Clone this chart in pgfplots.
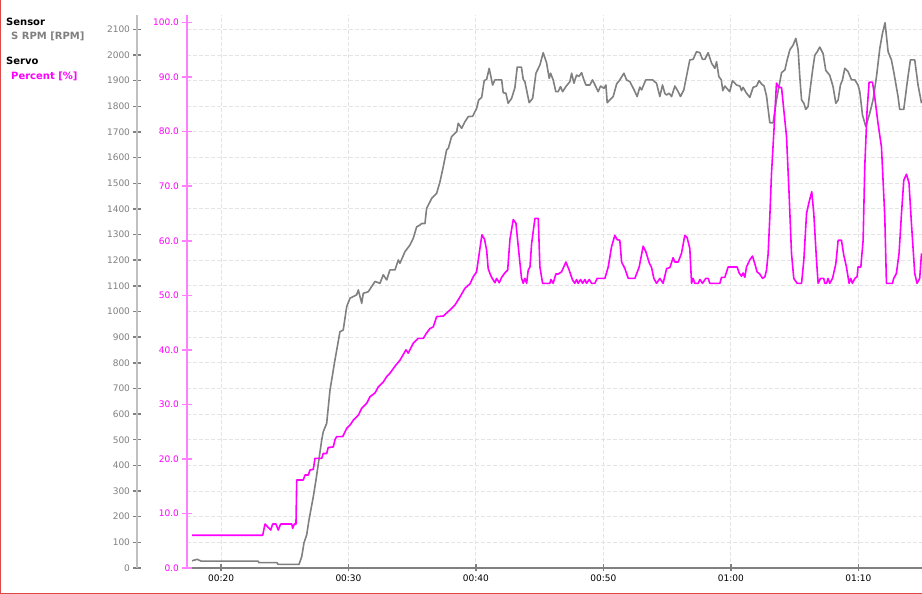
\documentclass[border=0pt]{standalone}
\usepackage{pgfplots}
\pgfplotsset{compat=1.18}
\usepackage{fontspec}
\setmainfont{DejaVu Sans}
\definecolor{rpmgray}{HTML}{808080}
\definecolor{rpmaxis}{HTML}{C0C0C0}
\definecolor{mag}{HTML}{FF00FF}
\definecolor{magaxis}{HTML}{FF80FF}
\definecolor{gridc}{HTML}{E4E4E4}
\definecolor{framec}{HTML}{E04848}
\begin{document}
\begin{tikzpicture}
\useasboundingbox (0pt,0pt) rectangle (922pt,594pt);
\fill[white] (0pt,0pt) rectangle (922pt,594pt);
% RPM axis
\begin{axis}[
  at={(187pt,26pt)}, anchor=south west,
  scale only axis, width=735pt, height=553pt,
  xmin=17.33, xmax=75.0, ymin=0, ymax=2156,
  axis x line*=bottom, axis y line*=left,
  axis y line shift=50pt,
  x axis line style={draw=rpmgray, line width=2pt, -},
  y axis line style={draw=rpmaxis, line width=2pt, -},
  xtick={20,30,40,50,60,70},
  xticklabels={00:20,00:30,00:40,00:50,01:00,01:10},
  ytick={0,100,...,2100},
  tick align=center,
  major tick length=7pt,
  xtick style={draw=rpmgray, line width=1.5pt},
  ytick style={draw=rpmgray, line width=1.5pt},
  /pgf/number format/assume math mode=true,
  /pgf/number format/1000 sep={},
  tick label style={font=\fontsize{9}{10}\selectfont},
  yticklabel style={text=rpmgray},
  xticklabel style={text=black},
  grid=major,
  major grid style={draw=gridc, line width=1pt, dash pattern=on 4pt off 2pt},
  clip=true,
]
\addplot[rpmgray, line width=1.6pt, line join=round] coordinates {
(17.73,28)(18.12,34)(18.43,27)(22.90,27)(22.98,21)(24.39,21)(24.47,14)(26.12,14)(26.33,44)(26.51,98)(26.72,129)(26.90,187)(27.24,278)(27.45,343)(27.90,499)(28.02,531)(28.29,564)(28.55,694)(28.94,811)(29.33,921)(29.59,928)(29.86,1019)(30.12,1052)(30.64,1065)(30.77,1084)(31.04,1032)(31.16,1071)(31.55,1077)(32.08,1117)(32.47,1110)(32.73,1143)(33.00,1123)(33.25,1162)(33.65,1162)(33.91,1201)(34.04,1188)(34.43,1233)(34.82,1259)(35.08,1285)(35.35,1330)(35.61,1337)(35.74,1343)(36.00,1343)(36.13,1402)(36.53,1441)(36.92,1461)(37.18,1506)(37.44,1565)(37.70,1630)(37.84,1637)(38.09,1682)(38.49,1701)(38.61,1734)(38.88,1714)(39.14,1740)(39.40,1760)(39.74,1761)(40.05,1791)(40.21,1824)(40.45,1835)(40.65,1900)(40.84,1905)(41.04,1948)(41.31,1883)(41.49,1903)(42.02,1903)(42.14,1853)(42.35,1851)(42.53,1812)(42.80,1831)(43.06,1873)(43.24,1953)(43.57,1953)(43.71,1905)(43.84,1896)(44.18,1814)(44.45,1831)(44.71,1929)(45.02,1961)(45.28,2009)(45.55,1968)(45.75,1909)(45.86,1929)(46.06,1903)(46.27,1857)(46.45,1857)(46.64,1877)(46.80,1857)(47.06,1877)(47.37,1896)(47.51,1929)(47.69,1890)(47.90,1922)(48.08,1916)(48.29,1931)(48.47,1903)(48.63,1883)(48.94,1883)(49.15,1903)(49.47,1870)(49.59,1857)(49.78,1879)(50.04,1870)(50.20,1883)(50.30,1814)(50.51,1825)(50.77,1838)(51.04,1887)(51.29,1903)(51.61,1929)(51.82,1903)(52.08,1896)(52.39,1866)(52.65,1838)(52.86,1875)(53.00,1864)(53.33,1903)(53.86,1903)(54.17,1890)(54.43,1838)(54.64,1883)(54.82,1851)(54.96,1844)(55.16,1851)(55.35,1838)(55.61,1879)(55.87,1857)(56.05,1838)(56.31,1864)(56.78,1981)(57.04,1983)(57.31,2013)(57.57,2009)(57.78,1983)(57.96,1983)(58.22,2009)(58.49,1968)(58.75,1948)(58.88,1974)(59.06,1916)(59.25,1903)(59.37,1861)(59.53,1879)(59.91,1857)(60.13,1900)(60.45,1883)(60.71,1879)(60.84,1861)(60.96,1874)(61.23,1851)(61.49,1835)(61.75,1874)(62.02,1879)(62.22,1900)(62.41,1887)(62.61,1879)(62.80,1840)(63.06,1736)(63.32,1736)(63.58,1825)(63.98,1931)(64.24,1942)(64.42,1981)(64.63,2020)(64.89,2039)(65.10,2065)(65.28,2020)(65.41,1916)(65.55,1825)(65.73,1812)(65.88,1788)(66.06,1799)(66.25,1877)(66.45,1953)(66.59,1999)(66.77,2012)(66.98,2031)(67.24,2005)(67.45,1940)(67.76,1921)(68.02,1877)(68.24,1812)(68.42,1825)(68.60,1883)(68.76,1903)(68.94,1948)(69.20,1935)(69.47,1903)(69.73,1903)(69.98,1883)(70.12,1857)(70.33,1766)(70.59,1721)(70.90,1773)(71.16,1825)(71.43,1916)(71.69,2026)(71.90,2085)(72.10,2126)(72.34,2013)(72.60,1981)(72.78,1935)(73.12,1838)(73.25,1788)(73.57,1788)(73.83,1890)(74.09,1981)(74.43,1981)(74.69,1883)(74.96,1812)
};
\end{axis}
% Percent axis
\begin{axis}[
  at={(187pt,26pt)}, anchor=south west,
  scale only axis, width=735pt, height=553pt,
  xmin=17.33, xmax=75.0, ymin=0, ymax=101.4,
  hide x axis,
  axis y line*=left,
  y axis line style={draw=magaxis, line width=2pt, -},
  ytick={0,10,...,100},
  tick align=center,
  major tick length=9pt,
  ytick style={draw=magaxis, line width=1.5pt},
  /pgf/number format/assume math mode=true,
  yticklabel style={text=mag, font=\fontsize{9}{10}\selectfont,
    /pgf/number format/fixed, /pgf/number format/fixed zerofill,
    /pgf/number format/precision=1},
  clip=true,
]
\addplot[mag, line width=1.6pt, line join=round] coordinates {
(17.73,6.0)(23.27,6.0)(23.45,8.06)(23.90,6.96)(24.05,8.06)(24.31,8.06)(24.49,6.96)(24.68,8.06)(25.55,8.06)(25.62,7.28)(25.75,8.06)(25.88,8.06)(25.94,16.13)(26.45,16.13)(26.59,17.05)(26.85,17.05)(26.98,17.96)(27.24,18.09)(27.37,20.1)(27.90,20.1)(28.02,21.0)(28.29,21.0)(28.41,22.1)(28.81,22.2)(28.94,23.5)(29.07,24.1)(29.55,24.1)(29.86,25.6)(30.12,26.2)(30.38,27.1)(30.77,28.0)(31.04,29.3)(31.43,30.2)(31.69,31.4)(32.08,32.1)(32.34,33.2)(32.73,34.1)(33.00,35.1)(33.25,35.7)(33.65,37.0)(34.04,38.1)(34.51,40.0)(34.69,39.4)(35.08,41.2)(35.47,42.1)(35.87,42.1)(36.13,43.1)(36.39,43.9)(36.65,44.2)(36.92,46.1)(37.44,46.2)(37.96,47.3)(38.35,48.2)(38.75,49.7)(39.14,51.3)(39.53,52.1)(39.79,53.4)(40.05,54.3)(40.26,57.7)(40.47,61.1)(40.67,60.3)(40.84,58.3)(40.96,54.9)(41.10,54.0)(41.23,53.3)(41.49,52.3)(41.62,53.1)(41.83,52.3)(42.02,53.3)(42.27,54.1)(42.49,54.6)(42.67,60.3)(42.93,63.9)(43.14,63.2)(43.40,57.1)(43.58,53.1)(43.71,52.2)(43.84,53.1)(43.98,52.2)(44.10,54.6)(44.24,55.2)(44.37,59.5)(44.63,64.1)(44.89,64.1)(45.02,55.2)(45.23,52.2)(45.80,52.2)(45.88,52.9)(46.06,52.2)(46.27,53.9)(46.45,53.9)(46.72,54.3)(47.06,56.1)(47.32,54.6)(47.58,52.8)(47.76,52.2)(47.90,52.9)(48.02,52.2)(48.21,52.9)(48.37,52.2)(48.55,52.9)(48.68,52.2)(48.89,52.9)(49.07,52.2)(49.33,52.2)(49.51,53.1)(50.12,53.1)(50.38,55.2)(50.64,58.9)(50.90,61.0)(51.08,60.2)(51.29,60.1)(51.43,56.1)(51.69,54.9)(51.95,53.1)(52.47,53.1)(52.81,55.2)(53.12,59.0)(53.33,58.0)(53.59,56.0)(53.78,55.1)(53.96,53.1)(54.17,52.2)(54.43,53.1)(54.69,52.2)(54.96,54.9)(55.22,55.1)(55.47,56.9)(55.61,56.1)(55.87,56.1)(56.13,57.7)(56.39,61.0)(56.57,60.6)(56.78,58.6)(56.92,52.2)(57.04,53.1)(57.18,52.2)(57.44,52.2)(57.57,52.9)(57.78,52.2)(58.04,53.1)(58.22,53.1)(58.35,52.2)(59.14,52.2)(59.27,53.3)(59.53,53.3)(59.79,55.2)(60.49,55.2)(60.65,54.1)(60.84,53.5)(60.96,54.1)(61.10,53.3)(61.23,55.2)(61.49,56.5)(61.70,57.2)(61.88,55.8)(62.06,54.3)(62.27,53.9)(62.49,53.1)(62.67,53.4)(62.80,54.6)(62.93,57.7)(63.06,64.4)(63.19,72.3)(63.37,79.7)(63.58,88.9)(63.79,88.1)(63.98,88.1)(64.16,83.9)(64.37,79.1)(64.57,68.7)(64.76,57.7)(64.94,53.1)(65.20,52.2)(65.55,52.2)(65.73,56.5)(65.94,65.0)(66.14,67.1)(66.35,69.0)(66.51,65.0)(66.72,56.5)(66.85,52.2)(67.04,53.1)(67.29,53.1)(67.37,52.2)(67.51,52.2)(67.63,53.1)(67.76,52.2)(67.98,53.1)(68.24,55.8)(68.42,60.1)(68.68,60.1)(68.86,57.4)(69.07,55.2)(69.28,52.2)(69.41,53.1)(69.54,52.2)(69.73,53.1)(69.91,53.4)(69.98,55.2)(70.20,55.2)(70.38,60.1)(70.51,73.6)(70.69,83.9)(70.85,89.1)(71.11,89.1)(71.29,86.4)(71.55,81.5)(71.82,77.2)(72.08,64.4)(72.21,52.2)(72.68,52.2)(72.78,53.1)(72.99,54.0)(73.20,57.7)(73.39,65.0)(73.57,71.1)(73.78,72.2)(73.98,70.6)(74.17,63.2)(74.43,54.0)(74.61,52.2)(74.82,53.1)(74.96,57.7)
};
\end{axis}
% legend panel text
\node[anchor=base west, inner sep=0pt, font=\bfseries\fontsize{10}{12}\selectfont, text=black] at (6pt,568pt) {Sensor};
\node[anchor=base west, inner sep=0pt, font=\bfseries\fontsize{10}{12}\selectfont, text=rpmgray] at (11pt,554.5pt) {S RPM [RPM]};
\node[anchor=base west, inner sep=0pt, font=\bfseries\fontsize{10}{12}\selectfont, text=black] at (6pt,529pt) {Servo};
\node[anchor=base west, inner sep=0pt, font=\bfseries\fontsize{10}{12}\selectfont, text=mag] at (11pt,514.5pt) {Percent [\%]};
% window frame
\draw[framec, line width=1pt] (0.5pt,0pt) -- (0.5pt,594pt);
\draw[framec, line width=1pt] (0pt,0.8pt) -- (922pt,0.8pt);
\end{tikzpicture}
\end{document}
